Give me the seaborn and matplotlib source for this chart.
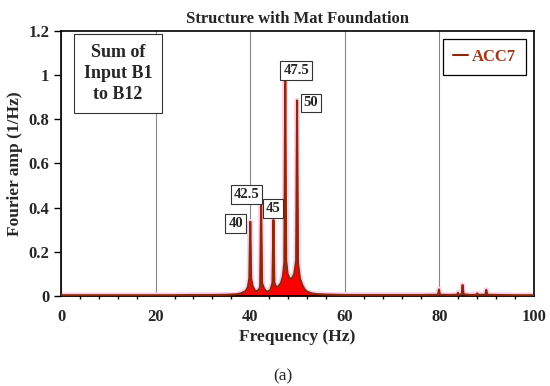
import seaborn as sns
import matplotlib.pyplot as plt
import pandas as pd
from matplotlib.ticker import MultipleLocator, FuncFormatter

# Fourier amplitude spectrum (ACC7)
freq_hz = [0, 4, 8, 12, 16, 20, 24, 28, 32, 35,
           37, 38, 39, 39.5, 39.8, 40.0, 40.2, 40.5, 41, 41.5,
           42, 42.1, 42.3, 42.5, 42.8, 43.2, 43.8, 44.3, 44.7, 44.9,
           45.1, 45.5, 46, 46.5, 46.9, 47.2, 47.4, 47.6, 47.9, 48.3,
           48.8, 49.3, 49.7, 49.9, 50.1, 50.5, 51, 51.5, 52, 53,
           54, 56, 60, 64, 68, 72, 76, 79.7, 79.9, 80.1,
           82, 83.8, 83.9, 84.0, 84.7, 84.9, 85.1, 86.5, 87.9, 88.0,
           88.1, 89.7, 89.9, 90.1, 92, 96, 100]
amp = [0.004, 0.004, 0.004, 0.004, 0.004, 0.004, 0.004, 0.005, 0.005, 0.006,
       0.008, 0.012, 0.022, 0.04, 0.08, 0.336, 0.08, 0.045, 0.025, 0.022,
       0.035, 0.05, 0.41, 0.06, 0.04, 0.025, 0.02, 0.03, 0.06, 0.344,
       0.06, 0.04, 0.045, 0.06, 0.09, 0.15, 0.978, 0.16, 0.1, 0.08,
       0.08, 0.1, 0.16, 0.885, 0.15, 0.08, 0.05, 0.03, 0.02, 0.012,
       0.009, 0.007, 0.005, 0.005, 0.005, 0.005, 0.005, 0.006, 0.03, 0.006,
       0.005, 0.006, 0.015, 0.006, 0.008, 0.05, 0.008, 0.005, 0.006, 0.012,
       0.006, 0.006, 0.028, 0.006, 0.005, 0.004, 0.004]

peak_labels = ['40', '42.5', '45', '47.5', '50']
label_x = [36.9, 39.2, 44.8, 49.7, 52.8]
label_y = [0.327, 0.46, 0.397, 1.02, 0.874]

df = pd.DataFrame({'Frequency': freq_hz, 'Amp': amp})

sns.set_style('white')
plt.rcParams['font.family'] = ['Liberation Serif', 'DejaVu Serif']
plt.rcParams['font.weight'] = 'bold'

fig = plt.figure(figsize=(5.5, 3.86), dpi=100)
ax = fig.add_axes([0.111, 0.233, 0.86, 0.687])

# pink glow, red fill under curve, brown line on top
sns.lineplot(data=df, x='Frequency', y='Amp', ax=ax, color='#ffd2ec', lw=4,
             legend=False, zorder=1)
ax.fill_between(df['Frequency'], df['Amp'], color='#ff0000', lw=0, zorder=2)
sns.lineplot(data=df, x='Frequency', y='Amp', ax=ax, color='#8b2a0a', lw=1.5,
             label='ACC7', zorder=3)

for txt, x, y in zip(peak_labels, label_x, label_y):
    ax.text(x, y, txt, ha='center', va='center', fontsize=10.5, fontweight='bold',
            bbox=dict(boxstyle='square,pad=0.2', fc='white', ec='#333333', lw=0.8),
            zorder=5)

ax.text(0.12, 0.84, 'Sum of\nInput B1\nto B12', transform=ax.transAxes,
        ha='center', va='center', fontsize=13, fontweight='bold', linespacing=1.3,
        bbox=dict(boxstyle='square,pad=0.55', fc='white', ec='#333333', lw=0.8),
        zorder=5)

ax.set_xlim(0, 100)
ax.set_ylim(0, 1.2)
ax.xaxis.set_major_locator(MultipleLocator(20))
ax.xaxis.set_minor_locator(MultipleLocator(4))
ax.yaxis.set_major_locator(MultipleLocator(0.2))
ax.yaxis.set_major_formatter(FuncFormatter(lambda v, p: f'{v:g}'))
ax.grid(axis='x', which='major', color='#888888', lw=0.8)
ax.tick_params(axis='x', which='major', direction='inout', length=8, width=1.2,
               labelsize=12, color='black', pad=5)
ax.tick_params(axis='x', which='minor', direction='inout', length=4, width=1,
               color='black', bottom=True)
ax.tick_params(axis='y', which='major', direction='out', length=5, width=1,
               labelsize=12, color='black', left=True)
for s in ax.spines.values():
    s.set_color('black')
    s.set_linewidth(1.2)

ax.set_xlabel('Frequency (Hz)', fontsize=12.5, fontweight='bold', labelpad=3)
ax.set_ylabel('Fourier amp (1/Hz)', fontsize=12.5, fontweight='bold')
ax.set_title('Structure with Mat Foundation', fontsize=12, fontweight='bold', pad=6)

leg = ax.legend(loc='upper right', fontsize=12, handlelength=0.9, handletextpad=0.2,
                frameon=True, fancybox=False, edgecolor='black', framealpha=1,
                borderpad=0.6, labelcolor='#a03818')
leg.get_frame().set_linewidth(0.9)
for t in leg.get_texts():
    t.set_fontweight('bold')

fig.text(0.515, 0.025, '(a)', ha='center', va='center', fontsize=12.5, fontweight='normal')

plt.savefig('out.png', dpi=100)
